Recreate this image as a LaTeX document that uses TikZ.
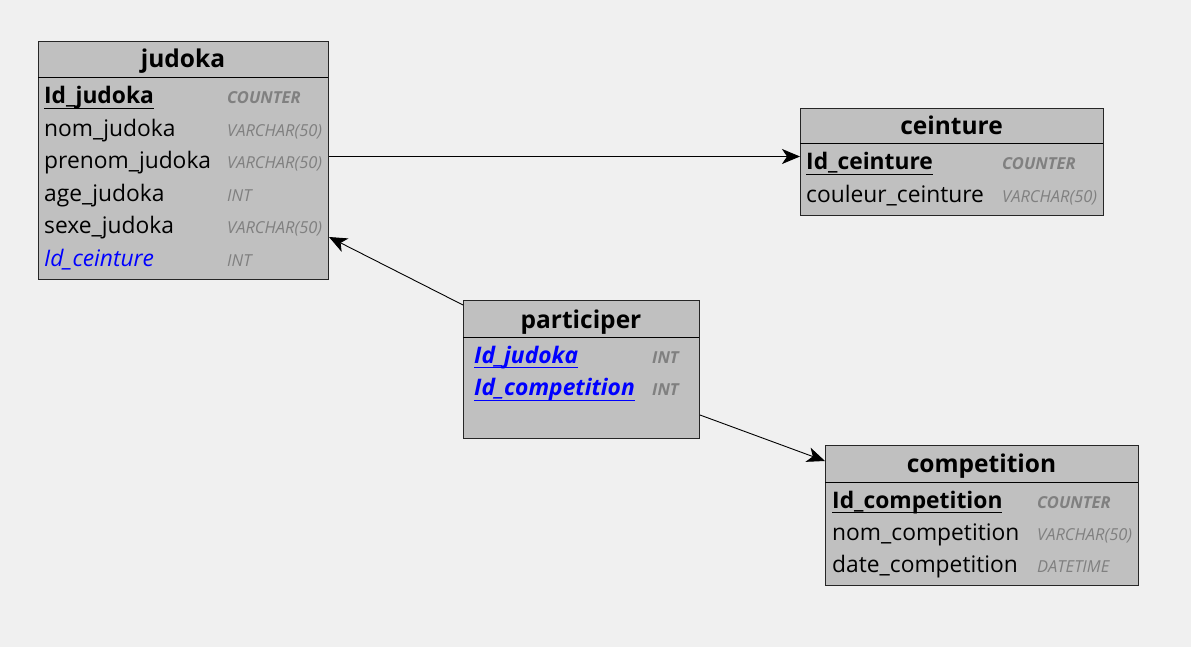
\documentclass[tikz,border=0pt]{standalone}
\usepackage{fontspec}
\setmainfont{Open Sans}
\usetikzlibrary{arrows.meta}
\definecolor{fond}{HTML}{F0F0F0}
\definecolor{gristable}{HTML}{C0C0C0}
\definecolor{gristype}{HTML}{808080}
\definecolor{bleufk}{HTML}{0000FF}
\newcommand{\souligne}[1]{\setbox0\hbox{#1}\rlap{\rule[-5pt]{\wd0}{1pt}}\box0}
\tikzset{
  entite/.style={draw=black!85, fill=gristable, line width=1pt, anchor=north west, inner sep=0pt},
  titre/.style={anchor=base, inner sep=0pt, font=\fontsize{24.5}{27}\selectfont\bfseries},
  champ/.style={anchor=base west, inner sep=0pt, font=\fontsize{22.8}{25}\selectfont},
  typ/.style={anchor=base west, inner sep=0pt, text=gristype, font=\fontsize{16.5}{19}\selectfont\itshape},
  lien/.style={-{Stealth[length=18pt,width=15pt,inset=5pt]}, line width=0.9pt},
}

\begin{document}
\begin{tikzpicture}[x=1pt,y=-1pt]
\useasboundingbox (0,0) rectangle (1191,647);
\fill[fond] (0,0) rectangle (1191,647);

% judoka
\node[entite, minimum width=290pt, minimum height=238pt] (judoka) at (38,41) {};
\draw[line width=1pt] (38,78) -- (328,78);
\node[titre] (t_judoka) at (183,68) {judoka};
\node[champ] (j1) at (44,104) {\souligne{\textbf{Id\_judoka}}};
\node[champ] (j2) at (44,136.4) {nom\_judoka};
\node[champ] (j3) at (44,168.8) {prenom\_judoka};
\node[champ] (j4) at (44,201.2) {age\_judoka};
\node[champ] (j5) at (44,233.6) {sexe\_judoka};
\node[champ, text=bleufk] (j6) at (44,266) {\itshape Id\_ceinture};
\node[typ] (tj1) at (227,104) {\bfseries COUNTER};
\node[typ] (tj2) at (227,136.4) {VARCHAR(50)};
\node[typ] (tj3) at (227,168.8) {VARCHAR(50)};
\node[typ] (tj4) at (227,201.2) {INT};
\node[typ] (tj5) at (227,233.6) {VARCHAR(50)};
\node[typ] (tj6) at (227,266) {INT};

% ceinture
\node[entite, minimum width=303pt, minimum height=107pt] (ceinture) at (800,108) {};
\draw[line width=1pt] (800,144) -- (1103,144);
\node[titre] (t_ceinture) at (951.5,135) {ceinture};
\node[champ] (c1) at (806,170) {\souligne{\textbf{Id\_ceinture}}};
\node[champ] (c2) at (806,202.7) {couleur\_ceinture};
\node[typ] (tc1) at (1002,170) {\bfseries COUNTER};
\node[typ] (tc2) at (1002,202.7) {VARCHAR(50)};

% participer
\node[entite, minimum width=236pt, minimum height=138pt] (participer) at (463,300) {};
\draw[line width=1pt] (463,337) -- (699,337);
\node[titre] (t_participer) at (581,328.3) {participer};
\node[champ, text=bleufk] (p1) at (474,363.3) {\souligne{\bfseries\itshape Id\_judoka}};
\node[champ, text=bleufk] (p2) at (474,395.5) {\souligne{\bfseries\itshape Id\_competition}};
\node[typ] (tp1) at (652,363.3) {\bfseries INT};
\node[typ] (tp2) at (652,395.5) {\bfseries INT};

% competition
\node[entite, minimum width=313pt, minimum height=140pt] (competition) at (825,445) {};
\draw[line width=1pt] (825,482) -- (1138,482);
\node[titre] (t_competition) at (981.5,472.3) {competition};
\node[champ] (m1) at (832,508.3) {\souligne{\textbf{Id\_competition}}};
\node[champ] (m2) at (832,540.7) {nom\_competition};
\node[champ] (m3) at (832,572.7) {date\_competition};
\node[typ] (tm1) at (1037,508.3) {\bfseries COUNTER};
\node[typ] (tm2) at (1037,540.7) {VARCHAR(50)};
\node[typ] (tm3) at (1037,572.7) {DATETIME};

% liens
\draw[lien] ([yshift=4pt]judoka.east) -- ([yshift=4pt]judoka.east -| ceinture.west);
\draw[lien] ([yshift=-5pt]participer.north west) -- ([yshift=43pt]judoka.south east);
\draw[lien] ([yshift=24pt]participer.south east) -- ([yshift=-16pt]competition.north west);
\end{tikzpicture}
\end{document}
